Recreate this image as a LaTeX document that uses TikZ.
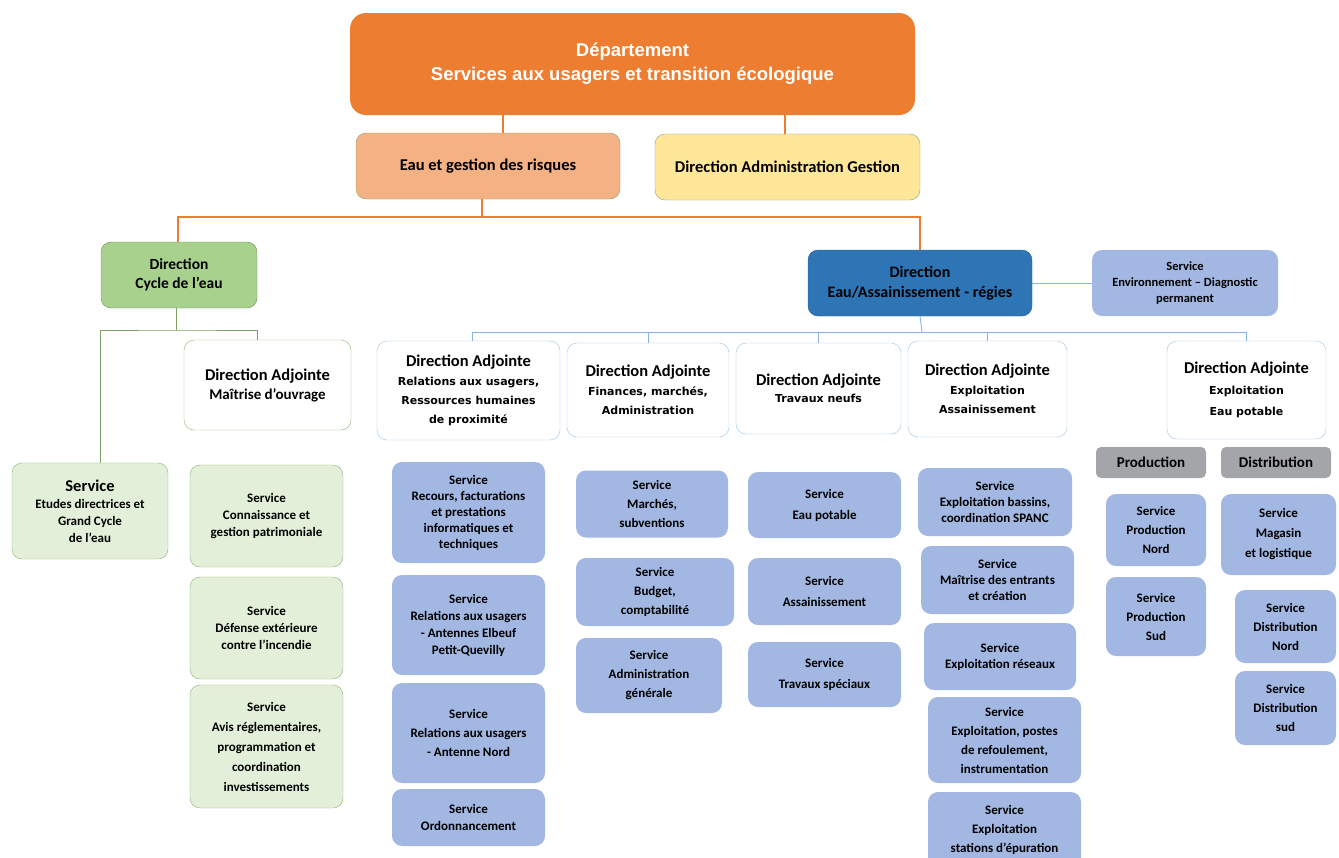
\documentclass[tikz,border=0pt]{standalone}
\usepackage{fontspec}
\setmainfont{Carlito}
\newfontfamily\titlefont{Liberation Sans}
\newfontfamily\widefont{DejaVu Sans}
\usetikzlibrary{positioning}
\definecolor{dept_orange}{HTML}{ED7D31}
\definecolor{risk_salmon}{HTML}{F4B183}
\definecolor{admin_yellow}{HTML}{FFE699}
\definecolor{cycle_green}{HTML}{A9D18E}
\definecolor{light_green}{HTML}{E2F0D9}
\definecolor{border_green}{HTML}{8CB370}
\definecolor{dark_blue}{HTML}{2E75B6}
\definecolor{service_blue}{HTML}{A2B7E2}
\definecolor{border_blue}{HTML}{9DC3E6}
\definecolor{head_gray}{HTML}{A3A5A8}
\newcommand{\subline}[1]{{\widefont\bfseries\fontsize{11}{12}\selectfont #1}}
\tikzset{
        box/.style={align=center, inner sep=1pt, rounded corners=10pt, font=\bfseries},
        % Department
        node_dept/.style={box, fill=dept_orange, text=white, rounded corners=16pt,
          font=\titlefont\bfseries\fontsize{18.5}{24}\selectfont},
        % Second level
        node_pole/.style={box, draw=border_green!80!gray, font=\bfseries\fontsize{16.5}{18}\selectfont},
        % Directions
        node_cycle/.style={box, fill=cycle_green, draw=border_green!80!black, font=\bfseries\fontsize{15.5}{19}\selectfont},
        node_eau/.style={box, fill=dark_blue, draw=dark_blue!80!black, font=\bfseries\fontsize{16}{20}\selectfont},
        % Deputy directions
        node_adj/.style={box, fill=white, draw=border_blue, font=\bfseries\fontsize{16.5}{19}\selectfont},
        node_adj_green/.style={node_adj, draw=border_green},
        % Services
        node_green/.style={box, fill=light_green, draw=border_green, font=\bfseries\fontsize{13}{17}\selectfont},
        node_service/.style={box, fill=service_blue, font=\bfseries\fontsize{13}{17}\selectfont},
        % Production and distribution headers
        node_head/.style={box, fill=head_gray, rounded corners=5pt, font=\bfseries\fontsize{15}{17}\selectfont},
        line_orange/.style={draw=dept_orange, line width=1.1pt},
        line_green/.style={draw=border_green!90!black, line width=0.9pt},
        line_blue/.style={draw=border_blue!80!dark_blue, line width=0.9pt}
}
\begin{document}
\begin{tikzpicture}[x=1pt, y=-1pt]
    \useasboundingbox (0,0) rectangle (1339,857);
    % top
    \node[node_dept, minimum width=565, minimum height=102] (dept) at (632.5,64)
        {Département\\Services aux usagers et transition écologique};
    \node[node_pole, fill=risk_salmon, minimum width=264, minimum height=66] (risques) at (488,166)
        {Eau et gestion des risques};
    \node[node_pole, fill=admin_yellow, minimum width=265, minimum height=66] (admin_gestion) at (787.5,167)
        {Direction Administration Gestion};
    % directions
    \node[node_cycle, minimum width=156, minimum height=66] (dir_cycle) at (179,275)
        {Direction\\Cycle de l’eau};
    \node[node_eau, minimum width=224, minimum height=66] (dir_eau) at (920,283)
        {Direction\\Eau/Assainissement - régies};
    \node[node_service, font=\bfseries\fontsize{12.5}{16}\selectfont, minimum width=186, minimum height=66] (environnement) at (1185,283)
        {Service\\Environnement – Diagnostic\\permanent};
    % cycle de l'eau
    \node[node_adj_green, minimum width=167, minimum height=90] (da_moa) at (267.5,385)
        {Direction Adjointe\\{\fontsize{15}{16}\selectfont Maîtrise d’ouvrage}};
    \node[node_green, minimum width=156, minimum height=96] (etudes) at (90,511)
        {{\fontsize{16.5}{17}\selectfont Service}\\Etudes directrices et\\Grand Cycle\\de l’eau};
    \node[node_green, minimum width=153, minimum height=102] (connaissance) at (266.5,516)
        {Service\\Connaissance et\\gestion patrimoniale};
    \node[node_green, minimum width=153, minimum height=102] (defense) at (266.5,628)
        {Service\\Défense extérieure\\contre l’incendie};
    \node[node_green, font=\bfseries\fontsize{13}{20}\selectfont, minimum width=153, minimum height=123] (avis) at (266.5,746.5)
        {Service\\Avis réglementaires,\\programmation et\\coordination\\investissements};
    % deputy directions
    \node[node_adj, minimum width=183, minimum height=99] (da_usagers) at (468.5,390.5)
        {Direction Adjointe\\\subline{Relations aux usagers,}\\\subline{Ressources humaines}\\\subline{de proximité}};
    \node[node_adj, minimum width=162, minimum height=94] (da_finances) at (648,390)
        {Direction Adjointe\\\subline{Finances, marchés,}\\\subline{Administration}};
    \node[node_adj, font=\bfseries\fontsize{16.5}{17}\selectfont, minimum width=165, minimum height=91] (da_travaux) at (818.5,388.5)
        {Direction Adjointe\\\subline{Travaux neufs}};
    \node[node_adj, minimum width=159, minimum height=96] (da_assainissement) at (987.5,389)
        {Direction Adjointe\\\subline{Exploitation}\\\subline{Assainissement}};
    \node[node_adj, font=\bfseries\fontsize{16.5}{21}\selectfont, minimum width=159, minimum height=98] (da_eau_potable) at (1246.5,390)
        {Direction Adjointe\\\subline{Exploitation}\\\subline{Eau potable}};
    % relations aux usagers
    \node[node_service, font=\bfseries\fontsize{13}{16}\selectfont, minimum width=153, minimum height=101] (recours) at (468.5,512.5)
        {Service\\Recours, facturations\\et prestations\\informatiques et\\techniques};
    \node[node_service, minimum width=153, minimum height=100] (elbeuf) at (468.5,625)
        {Service\\Relations aux usagers\\- Antennes Elbeuf\\Petit-Quevilly};
    \node[node_service, font=\bfseries\fontsize{13}{19}\selectfont, minimum width=153, minimum height=100] (antenne_nord) at (468.5,733)
        {Service\\Relations aux usagers\\- Antenne Nord};
    \node[node_service, minimum width=153, minimum height=57] (ordonnancement) at (468.5,817.5)
        {Service\\Ordonnancement};
    % finances
    \node[node_service, font=\bfseries\fontsize{13}{19}\selectfont, minimum width=152, minimum height=67] (marches) at (652,504)
        {Service\\Marchés,\\subventions};
    \node[node_service, font=\bfseries\fontsize{13}{19}\selectfont, minimum width=158, minimum height=68] (budget) at (655,592)
        {Service\\Budget,\\comptabilité};
    \node[node_service, font=\bfseries\fontsize{13}{19}\selectfont, minimum width=146, minimum height=75] (admin_generale) at (649,675.5)
        {Service\\Administration\\générale};
    % travaux neufs
    \node[node_service, font=\bfseries\fontsize{13}{21}\selectfont, minimum width=153, minimum height=66] (eau_potable) at (824.5,505)
        {Service\\Eau potable};
    \node[node_service, font=\bfseries\fontsize{13}{21}\selectfont, minimum width=153, minimum height=67] (assainissement) at (824.5,591.5)
        {Service\\Assainissement};
    \node[node_service, font=\bfseries\fontsize{13}{21}\selectfont, minimum width=153, minimum height=65] (travaux_speciaux) at (824.5,674.5)
        {Service\\Travaux spéciaux};
    % exploitation assainissement
    \node[node_service, font=\bfseries\fontsize{13}{16}\selectfont, minimum width=154, minimum height=68] (bassins) at (995,502)
        {Service\\Exploitation bassins,\\coordination SPANC};
    \node[node_service, font=\bfseries\fontsize{13}{16}\selectfont, minimum width=153, minimum height=68] (entrants) at (997.5,580)
        {Service\\Maîtrise des entrants\\et création};
    \node[node_service, font=\bfseries\fontsize{13}{16}\selectfont, minimum width=152, minimum height=67] (reseaux) at (1000,656.5)
        {Service\\Exploitation réseaux};
    \node[node_service, font=\bfseries\fontsize{13}{19}\selectfont, minimum width=153, minimum height=86] (postes) at (1004.5,740)
        {Service\\Exploitation, postes\\de refoulement,\\instrumentation};
    \node[node_service, font=\bfseries\fontsize{13}{19}\selectfont, minimum width=153, minimum height=76] (stations) at (1004.5,830)
        {Service\\Exploitation\\stations d’épuration};
    % exploitation eau potable
    \node[node_head, minimum width=110, minimum height=31] (production) at (1151,462.5) {Production};
    \node[node_head, minimum width=110, minimum height=31] (distribution) at (1276,462.5) {Distribution};
    \node[node_service, font=\bfseries\fontsize{13}{19}\selectfont, minimum width=100, minimum height=72] (prod_nord) at (1156,530)
        {Service\\Production\\Nord};
    \node[node_service, font=\bfseries\fontsize{13}{19}\selectfont, minimum width=100, minimum height=79] (prod_sud) at (1156,616.5)
        {Service\\Production\\Sud};
    \node[node_service, font=\bfseries\fontsize{13}{20}\selectfont, minimum width=115, minimum height=81] (magasin) at (1278.5,534.5)
        {Service\\Magasin\\et logistique};
    \node[node_service, font=\bfseries\fontsize{13}{19}\selectfont, minimum width=101, minimum height=73] (dist_nord) at (1285.5,626.5)
        {Service\\Distribution\\Nord};
    \node[node_service, font=\bfseries\fontsize{13}{19}\selectfont, minimum width=101, minimum height=74] (dist_sud) at (1285.5,708)
        {Service\\Distribution\\sud};
    % connectors
    \coordinate (bus_orange) at (482,217);
    \coordinate (bus_cycle) at (176,330);
    \coordinate (bus_eau) at (922,332);
    \draw[line_orange] (risques.north -| 503,0) -- (503,0 |- dept.south);
    \draw[line_orange] (admin_gestion.north -| 785,0) -- (785,0 |- dept.south);
    \draw[line_orange] (risques.south -| bus_orange) -- (bus_orange);
    \draw[line_orange] (dir_cycle.north -| 178,0) |- (bus_orange) -| (dir_eau.north);
    \draw[line_green] (dir_cycle.south -| bus_cycle) -- (bus_cycle);
    \draw[line_green] (etudes.north -| dir_cycle.west) |- (bus_cycle) -| (da_moa.north -| dir_cycle.east);
    \draw[line_blue] (dir_eau.east) -- (environnement.west);
    \draw[line_blue] (dir_eau.south) -- (bus_eau);
    \draw[line_blue] (bus_eau -| 472,0) -- (bus_eau -| da_eau_potable.north);
    \draw[line_blue] (bus_eau -| 472,0) -- (da_usagers.north -| 472,0);
    \foreach \n in {da_finances, da_travaux, da_assainissement, da_eau_potable}
        \draw[line_blue] (bus_eau -| \n.north) -- (\n.north);
\end{tikzpicture}
\end{document}
